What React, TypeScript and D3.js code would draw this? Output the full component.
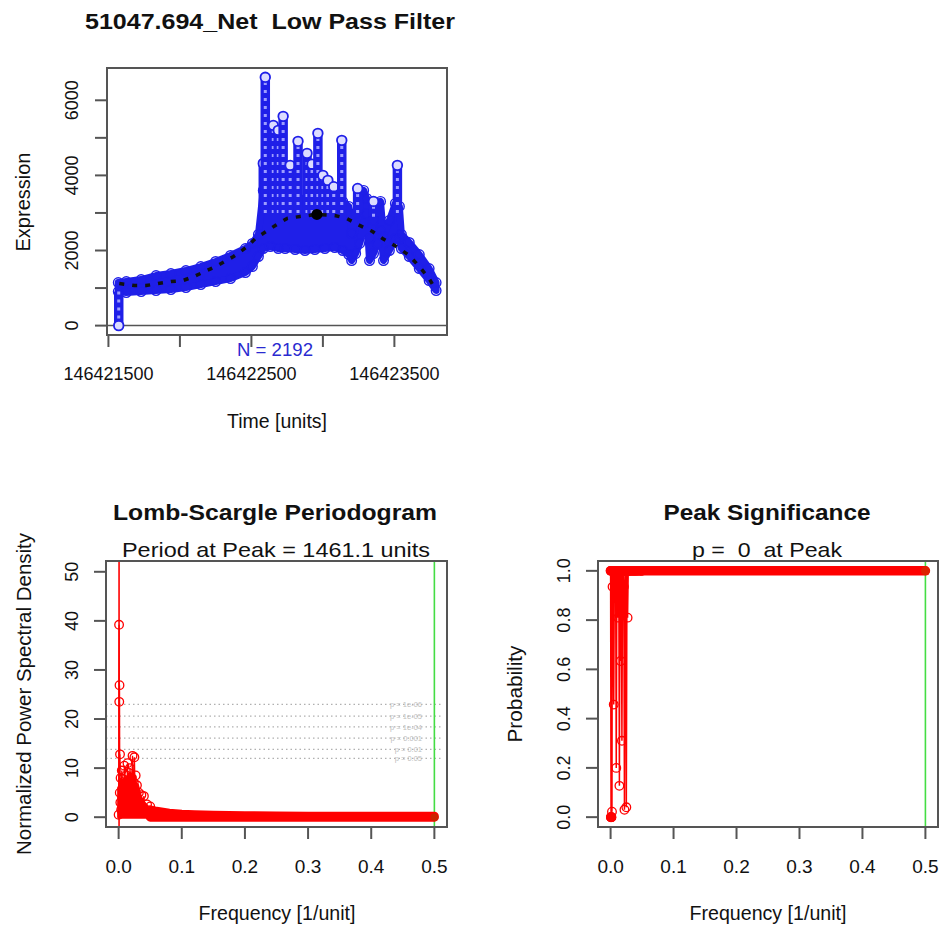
import React from "react";
import * as d3 from "d3";

// ---------------- data: top panel (expression vs time) ----------------
const sampleCount = 2192;
const bandTime = [146421569, 146421625, 146421729, 146421833, 146421937, 146422042, 146422146, 146422250, 146422354, 146422458, 146422507, 146422549, 146422583, 146422632, 146422688, 146422736, 146422806, 146422875, 146422944, 146423014, 146423083, 146423139, 146423181, 146423201, 146423229, 146423257, 146423285, 146423306, 146423326, 146423354, 146423382, 146423403, 146423424, 146423465, 146423507, 146423535, 146423549, 146423604, 146423674, 146423743, 146423792];
const bandLow = [907, 880, 907, 933, 960, 1013, 1093, 1173, 1253, 1413, 1573, 1840, 2053, 2107, 2053, 2053, 2027, 2000, 2027, 2053, 2080, 2000, 1893, 1733, 1920, 2187, 2720, 2987, 1733, 1920, 2187, 2533, 1733, 2000, 2320, 2320, 2053, 1840, 1520, 1200, 933];
const bandHigh = [1147, 1173, 1227, 1333, 1387, 1467, 1573, 1707, 1867, 2053, 2187, 2427, 3600, 3900, 3700, 3600, 3450, 3350, 3300, 3200, 3150, 3300, 3173, 2453, 2987, 3520, 3600, 3387, 2320, 2800, 3253, 3307, 2373, 2800, 3253, 3173, 2427, 2213, 1893, 1520, 1147];
const spikeTime = [146421572, 146422583, 146422597, 146422653, 146422688, 146422722, 146422771, 146422826, 146422889, 146422924, 146422965, 146423000, 146423035, 146423076, 146423132, 146423243, 146423354, 146423521];
const spikeBase = [907, 3000, 3000, 3000, 3000, 3000, 3000, 3000, 3000, 3000, 3000, 3000, 3000, 3000, 3000, 3000, 2900, 3000];
const spikeTop = [0, 4320, 6613, 5333, 5200, 5573, 4267, 4907, 4587, 4300, 5120, 4000, 3867, 3700, 4933, 3653, 3307, 4267];
const lpTime = [146421576, 146421681, 146421764, 146421847, 146421937, 146422021, 146422097, 146422174, 146422264, 146422375, 146422472, 146422528, 146422667, 146422750, 146422840, 146422958, 146423083, 146423167, 146423257, 146423347, 146423417, 146423514, 146423604, 146423674, 146423743, 146423792];
const lpValue = [1120, 1067, 1067, 1120, 1173, 1200, 1307, 1440, 1600, 1840, 2107, 2320, 2667, 2853, 2907, 2960, 2933, 2853, 2667, 2507, 2320, 2107, 1867, 1573, 1253, 933];
const lpPeakTime = 146422958;
const lpPeakValue = 2960;
const timeTicks = [146421500, 146422000, 146422500, 146423000, 146423500];
const timeLabels = ["146421500", "", "146422500", "", "146423500"];
const exprTicks = [0, 1000, 2000, 3000, 4000, 5000, 6000];
const exprLabels = ["0", "", "2000", "", "4000", "", "6000"];

// ---------------- data: Lomb-Scargle periodogram ----------------
const lsFreq = [0.0, 0.0007, 0.001, 0.0014, 0.0018, 0.0022, 0.0027, 0.0031, 0.004, 0.005, 0.006, 0.007, 0.008, 0.009, 0.01, 0.011, 0.012, 0.013, 0.014, 0.015, 0.016, 0.017, 0.018, 0.019, 0.02, 0.021, 0.022, 0.023, 0.024, 0.025, 0.026, 0.027, 0.028, 0.029, 0.03, 0.032, 0.034, 0.036, 0.038, 0.04, 0.042, 0.045, 0.048, 0.05];
const lsPower = [0.5, 39.2, 23.5, 26.9, 5.0, 12.8, 3.0, 8.0, 1.5, 9.5, 4.0, 7.8, 2.0, 10.5, 6.0, 3.0, 8.5, 1.0, 11.0, 5.0, 9.0, 2.5, 10.0, 6.5, 3.0, 8.0, 12.5, 4.0, 7.0, 12.2, 5.5, 8.5, 3.0, 6.5, 2.0, 5.0, 1.5, 4.5, 2.0, 4.3, 1.2, 2.6, 0.8, 2.2];
const lsBlobFreq = [0.0, 0.005, 0.01, 0.02, 0.03, 0.035, 0.04, 0.045, 0.05];
const lsBlobHigh = [6.0, 7.0, 8.0, 8.0, 6.5, 4.0, 3.0, 2.2, 1.5];
const lsFloorFreq = [0.05, 0.06, 0.07, 0.08, 0.1, 0.12, 0.15, 0.2, 0.25, 0.3, 0.4, 0.5];
const lsFloorHigh = [1.5, 1.2, 1.0, 0.8, 0.6, 0.5, 0.4, 0.3, 0.25, 0.2, 0.2, 0.2];
const peakFreq = 0.000684;
const sigLabels = ["p = 1e-06", "p = 1e-05", "p = 1e-04", "p = 0.001", "p = 0.01", "p = 0.05"];
const sigPower = [23.0, 20.6, 18.4, 16.1, 13.8, 12.0];
const freqTicks = [0, 0.1, 0.2, 0.3, 0.4, 0.5];
const freqLabels = ["0.0", "0.1", "0.2", "0.3", "0.4", "0.5"];
const powerTicks = [0, 10, 20, 30, 40, 50];
const powerLabels = ["0", "10", "20", "30", "40", "50"];

// ---------------- data: peak significance ----------------
const probValue = [1, 0, 0, 0, 1, 0.022, 1, 0.935, 1, 0.457, 1, 0.964, 1, 0.2, 1, 1, 0.81, 1, 0.127, 1, 0.634, 1, 0.31, 1, 1, 0.935, 0.03, 1, 0.999, 0.04, 1, 0.81, 1, 1, 1, 1, 1, 1, 1, 1, 1, 1, 1, 1];
const probFloorFreq = [0.0, 0.5];
const probFloorValue = [1.0, 1.0];
const probTicks = [0, 0.2, 0.4, 0.6, 0.8, 1.0];
const probLabels = ["0.0", "0.2", "0.4", "0.6", "0.8", "1.0"];

const FONT = "'Liberation Sans', Arial, Helvetica, sans-serif";
const AX = "#555555";
const BLUE = "#1f1fe8";
const RED = "#ff0000";
const GREEN = "#44dd44";

type Sc = d3.ScaleLinear<number, number>;

function Frame({ x, y }: { x: Sc; y: Sc }) {
  const [x0, x1] = x.range();
  const [y0, y1] = y.range();
  return <rect x={x0} y={y1} width={x1 - x0} height={y0 - y1} fill="none" stroke={AX} strokeWidth={2} />;
}

function BottomAxis({ x, y, ticks, labels, labelY, size }: { x: Sc; y: Sc; ticks: number[]; labels: string[]; labelY: number; size: number }) {
  const base = y.range()[0];
  return (
    <g>
      {ticks.map((t, i) => (
        <g key={i}>
          <line x1={x(t)} x2={x(t)} y1={base} y2={base + 12} stroke={AX} strokeWidth={2} />
          {labels[i] ? (
            <text x={x(t)} y={labelY} textAnchor="middle" fontSize={size} fontFamily={FONT} fill="#111">{labels[i]}</text>
          ) : null}
        </g>
      ))}
    </g>
  );
}

function LeftAxis({ x, y, ticks, labels, labelX, size }: { x: Sc; y: Sc; ticks: number[]; labels: string[]; labelX: number; size: number }) {
  const left = x.range()[0];
  return (
    <g>
      {ticks.map((t, i) => (
        <g key={i}>
          <line x1={left} x2={left - 12} y1={y(t)} y2={y(t)} stroke={AX} strokeWidth={2} />
          {labels[i] ? (
            <text transform={`translate(${labelX},${y(t)}) rotate(-90)`} textAnchor="middle" fontSize={size} fontFamily={FONT} fill="#111">{labels[i]}</text>
          ) : null}
        </g>
      ))}
    </g>
  );
}

function T({ x, y, children, size, bold, len, rotate, color }: any) {
  const props: any = {
    textAnchor: "middle",
    fontSize: size,
    fontFamily: FONT,
    fontWeight: bold ? "bold" : "normal",
    fill: color || "#111",
    style: { whiteSpace: "pre" },
  };
  if (len) {
    props.textLength = len;
    props.lengthAdjust = "spacingAndGlyphs";
  }
  if (rotate) return <text transform={`translate(${x},${y}) rotate(-90)`} {...props}>{children}</text>;
  return <text x={x} y={y} {...props}>{children}</text>;
}

export default function App() {
  // ---- top panel scales ----
  const tx = d3.scaleLinear().domain([146421490, 146423868]).range([107, 447]);
  const ty = d3.scaleLinear().domain([-250, 6860]).range([335, 68]);
  const idx = d3.range(bandTime.length);
  const band = d3.area<number>().x((i) => tx(bandTime[i])).y0((i) => ty(bandLow[i])).y1((i) => ty(bandHigh[i]))(idx) || "";
  const lp = d3.line<number>().x((i) => tx(lpTime[i])).y((i) => ty(lpValue[i]))(d3.range(lpTime.length)) || "";

  // ---- periodogram scales ----
  const lx = d3.scaleLinear().domain([-0.02, 0.52]).range([106, 447]);
  const ly = d3.scaleLinear().domain([-2.0, 52.2]).range([827, 561]);
  const lsLine = d3.line<number>().x((i) => lx(lsFreq[i])).y((i) => ly(lsPower[i]))(d3.range(lsFreq.length)) || "";
  const blob = d3.area<number>().x((i) => lx(lsBlobFreq[i])).y0(ly(0)).y1((i) => ly(lsBlobHigh[i]))(d3.range(lsBlobFreq.length)) || "";
  const floor = d3.area<number>().x((i) => lx(lsFloorFreq[i])).y0(ly(0)).y1((i) => ly(lsFloorHigh[i]))(d3.range(lsFloorFreq.length)) || "";

  // ---- significance scales ----
  const px = d3.scaleLinear().domain([-0.02, 0.52]).range([598, 938]);
  const py = d3.scaleLinear().domain([-0.04, 1.04]).range([827, 561]);
  const pLine = d3.line<number>().x((i) => px(lsFreq[i])).y((i) => py(probValue[i]))(d3.range(lsFreq.length)) || "";
  const pFloor = d3.line<number>().x((i) => px(probFloorFreq[i])).y((i) => py(probFloorValue[i]))(d3.range(probFloorFreq.length)) || "";

  return (
    <svg width={941} height={928} style={{ position: "absolute", left: 0, top: 0, background: "#fff" }}>
      <rect x={0} y={0} width={941} height={928} fill="#fff" />

      {/* ================= TOP PANEL ================= */}
      <T x={270} y={29} size={22} bold len={370}>{"51047.694_Net  Low Pass Filter"}</T>
      <line x1={tx.range()[0]} x2={tx.range()[1]} y1={ty(0)} y2={ty(0)} stroke={AX} strokeWidth={1.5} />
      <path d={band} fill={BLUE} stroke={BLUE} strokeWidth={7} strokeLinejoin="round" />
      {idx.map((i) => (
        <g key={"bc" + i}>
          <circle cx={tx(bandTime[i])} cy={ty(bandLow[i])} r={4.8} fill="none" stroke={BLUE} strokeWidth={1.4} />
          <circle cx={tx(bandTime[i])} cy={ty(bandHigh[i])} r={4.8} fill="none" stroke={BLUE} strokeWidth={1.4} />
        </g>
      ))}
      {spikeTime.map((t, i) => (
        <g key={"sp" + i}>
          <line x1={tx(t)} x2={tx(t)} y1={ty(spikeBase[i])} y2={ty(spikeTop[i])} stroke={BLUE} strokeWidth={9.5} />
          <line x1={tx(t)} x2={tx(t)} y1={ty(spikeBase[i])} y2={ty(spikeTop[i])} stroke="#9d9dff" strokeWidth={3} strokeDasharray="3 5" />
          <circle cx={tx(t)} cy={ty(spikeTop[i])} r={4.8} fill="#dcdcff" stroke={BLUE} strokeWidth={1.8} />
        </g>
      ))}
      <path d={lp} fill="none" stroke="#111" strokeWidth={3.5} strokeDasharray="5 8" />
      <circle cx={tx(lpPeakTime)} cy={ty(lpPeakValue)} r={5.5} fill="#000" />
      <Frame x={tx} y={ty} />
      <BottomAxis x={tx} y={ty} ticks={timeTicks} labels={timeLabels} labelY={380} size={18} />
      <LeftAxis x={tx} y={ty} ticks={exprTicks} labels={exprLabels} labelX={78} size={18} />
      <T x={275} y={356} size={18} len={76} color="#2a2ad0">{`N = ${sampleCount}`}</T>
      <T x={277} y={428} size={20} len={100}>Time [units]</T>
      <T x={30} y={202} size={20} len={99} rotate>Expression</T>

      {/* ================= LOMB-SCARGLE ================= */}
      <T x={275} y={520} size={22} bold len={324}>Lomb-Scargle Periodogram</T>
      <T x={276} y={557} size={21} len={308}>Period at Peak = 1461.1 units</T>
      {sigPower.map((p, i) => (
        <g key={"sg" + i}>
          <line x1={lx.range()[0]} x2={lx(0.51)} y1={ly(p)} y2={ly(p)} stroke="#b0b0b0" strokeWidth={1.2} strokeDasharray="1.5 3" />
          <text x={422} y={ly(p)} dy="0.35em" textAnchor="end" fontSize={7.5} fontFamily={FONT} fill="#c0c0c0">{sigLabels[i]}</text>
        </g>
      ))}
      <line x1={lx(0.5)} x2={lx(0.5)} y1={ly.range()[0]} y2={ly.range()[1]} stroke={GREEN} strokeWidth={1.6} />
      <path d={floor} fill={RED} stroke={RED} strokeWidth={9} strokeLinejoin="round" strokeLinecap="round" />
      <path d={blob} fill={RED} stroke={RED} strokeWidth={3} strokeLinejoin="round" />
      <line x1={lx(peakFreq)} x2={lx(peakFreq)} y1={ly.range()[0]} y2={ly.range()[1]} stroke={RED} strokeWidth={1.6} />
      <path d={lsLine} fill="none" stroke={RED} strokeWidth={1.3} />
      {lsFreq.map((f, i) => (
        <circle key={"lc" + i} cx={lx(f)} cy={ly(lsPower[i])} r={4.3} fill="none" stroke={RED} strokeWidth={1.3} />
      ))}
      <circle cx={lx(lsFloorFreq[lsFloorFreq.length - 1])} cy={ly(0)} r={4} fill="#cc2200" />
      <Frame x={lx} y={ly} />
      <BottomAxis x={lx} y={ly} ticks={freqTicks} labels={freqLabels} labelY={873} size={19} />
      <LeftAxis x={lx} y={ly} ticks={powerTicks} labels={powerLabels} labelX={78} size={18} />
      <T x={277} y={920} size={20} len={157}>Frequency [1/unit]</T>
      <T x={31} y={694} size={20} len={322} rotate>Normalized Power Spectral Density</T>

      {/* ================= PEAK SIGNIFICANCE ================= */}
      <T x={767} y={520} size={22} bold len={207}>Peak Significance</T>
      <T x={767} y={557} size={21} len={150}>{"p =  0  at Peak"}</T>
      <line x1={px(0.5)} x2={px(0.5)} y1={py.range()[0]} y2={py.range()[1]} stroke={GREEN} strokeWidth={1.6} />
      <path d={pFloor} fill="none" stroke={RED} strokeWidth={9.5} strokeLinecap="round" />
      <path d={pLine} fill="none" stroke={RED} strokeWidth={1.5} />
      {lsFreq.map((f, i) => (
        <circle key={"pc" + i} cx={px(f)} cy={py(probValue[i])} r={4.3} fill="none" stroke={RED} strokeWidth={1.3} />
      ))}
      <circle cx={px(peakFreq)} cy={py(0)} r={5} fill={RED} />
      <circle cx={px(0.5)} cy={py(1)} r={4.5} fill="#dd2200" />
      <Frame x={px} y={py} />
      <BottomAxis x={px} y={py} ticks={freqTicks} labels={freqLabels} labelY={873} size={19} />
      <LeftAxis x={px} y={py} ticks={probTicks} labels={probLabels} labelX={570} size={18} />
      <T x={768} y={920} size={20} len={157}>Frequency [1/unit]</T>
      <T x={522} y={694} size={20} len={97} rotate>Probability</T>
    </svg>
  );
}
